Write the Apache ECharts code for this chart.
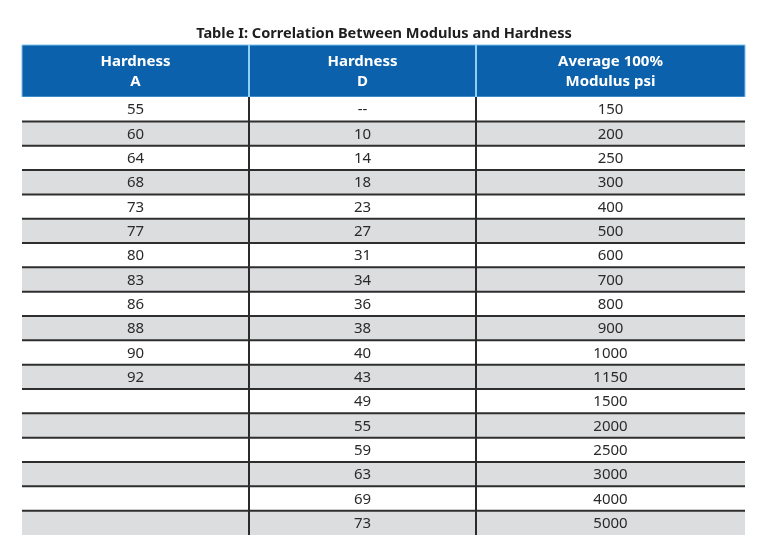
<!DOCTYPE html>
<html><head><meta charset="utf-8">
<script src="https://cdn.jsdelivr.net/npm/echarts@6/dist/echarts.min.js"></script>
<style>html,body{margin:0;padding:0;background:#fff}#c{width:768px;height:560px}</style>
</head><body><div id="c"></div>
<script>
// ---- data ----
const titleText = 'Table I: Correlation Between Modulus and Hardness';
const headers = ['Hardness\nA', 'Hardness\nD', 'Average 100%\nModulus psi'];
const hardnessA = ['55','60','64','68','73','77','80','83','86','88','90','92','','','','','',''];
const hardnessD = ['--','10','14','18','23','27','31','34','36','38','40','43','49','55','59','63','69','73'];
const modulusPsi = ['150','200','250','300','400','500','600','700','800','900','1000','1150','1500','2000','2500','3000','4000','5000'];

// ---- layout ----
const columns = [hardnessA, hardnessD, modulusPsi];
const colWidths = [227, 227, 269];
const HEADER_ROWS = 2.14;
const colEdges = colWidths.reduce((a, w) => { a.push(a[a.length - 1] + w); return a; }, [0]);
const nRows = modulusPsi.length;
const FONT = '"Noto Sans", "Open Sans", sans-serif';

const cells = [];
for (let c = 0; c < columns.length; c++) {
  cells.push([c, -1, headers[c]]);
  for (let r = 0; r < nRows; r++) cells.push([c, r, columns[c][r]]);
}

function cellRect(api, c, r) {
  const y0 = r < 0 ? -HEADER_ROWS : r;
  const y1 = r < 0 ? 0 : r + 1;
  const p0 = api.coord([colEdges[c], y0]);
  const p1 = api.coord([colEdges[c + 1], y1]);
  return { x: p0[0], y: Math.min(p0[1], p1[1]), width: p1[0] - p0[0], height: Math.abs(p1[1] - p0[1]) };
}

const chart = echarts.init(document.getElementById('c'), null, { renderer: 'canvas' });
chart.setOption({
  animation: false,
  backgroundColor: '#ffffff',
  title: {
    text: titleText, left: 'center', top: 21,
    textStyle: { fontFamily: FONT, fontSize: 14.6, fontWeight: 'bold', color: '#1e1e1e' }
  },
  grid: { left: 22, right: 23, top: 45, bottom: 25 },
  xAxis: { type: 'value', min: 0, max: colEdges[colEdges.length - 1], show: false },
  yAxis: { type: 'value', min: -HEADER_ROWS, max: nRows, inverse: true, show: false },
  series: [
    {
      type: 'custom', z: 1, silent: true,
      data: cells.map(d => [d[0], d[1]]),
      renderItem: function (params, api) {
        const d = cells[params.dataIndex];
        const c = d[0], r = d[1];
        const rc = cellRect(api, c, r);
        let fill = '#ffffff';
        if (r < 0) fill = '#0b61ab';
        else if (r % 2 === 1) fill = '#dcdddf';
        return {
          type: 'rect', shape: rc,
          style: { fill: fill, stroke: r < 0 ? '#7fc3ec' : null, lineWidth: r < 0 ? 1 : 0 }
        };
      }
    },
    {
      type: 'custom', z: 3, silent: true,
      data: cells.map(d => [d[0], d[1]]),
      renderItem: function (params, api) {
        const d = cells[params.dataIndex];
        const c = d[0], r = d[1];
        const rc = cellRect(api, c, r);
        const children = [];
        if (r >= 1) {
          children.push({ type: 'line', shape: { x1: rc.x, y1: rc.y, x2: rc.x + rc.width, y2: rc.y },
            style: { stroke: '#2e2e2e', lineWidth: 2 } });
        }
        if (c >= 1) {
          children.push({ type: 'line', shape: { x1: rc.x, y1: rc.y, x2: rc.x, y2: rc.y + rc.height },
            style: { stroke: r < 0 ? '#8fd0f5' : '#2b2b2b', lineWidth: 2 } });
        }
        if (d[2]) {
          children.push({ type: 'text',
            style: {
              x: rc.x + rc.width / 2, y: rc.y + rc.height / 2 + 1,
              text: d[2], align: 'center', verticalAlign: 'middle',
              fontFamily: FONT,
              fontSize: 15,
              fontWeight: r < 0 ? 'bold' : 'normal',
              lineHeight: 20,
              fill: r < 0 ? '#ffffff' : '#2a2a2a'
            } });
        }
        return { type: 'group', children: children };
      }
    }
  ]
});
</script>
</body></html>
